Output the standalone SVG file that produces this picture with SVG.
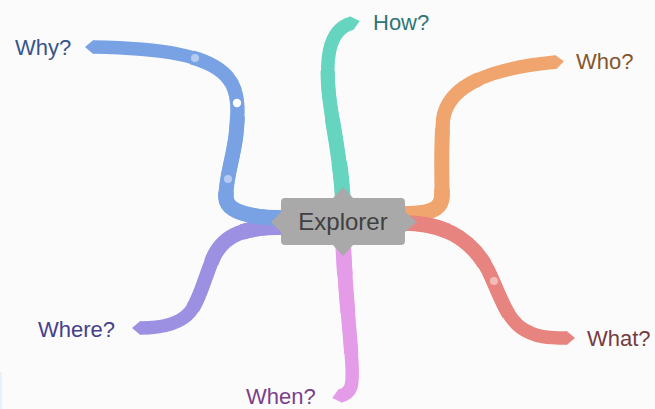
<svg xmlns="http://www.w3.org/2000/svg" width="655" height="409" viewBox="0 0 655 409">
  <style>
    .branch { fill: none; stroke-width: 13.5; stroke-linecap: butt; stroke-linejoin: round; }
    /* slightly wider sections near the root give the ribbons a gentle taper */
    .w1 { stroke-width: 14.2; stroke-dasharray: 70 200; }
    .w2 { stroke-width: 14.9; stroke-dasharray: 45 200; }
    .w3 { stroke-width: 15.6; stroke-dasharray: 22 200; }
    .label { font-family: "Liberation Sans", Arial, sans-serif; font-size: 22px; }
    .root-label { font-family: "Liberation Sans", Arial, sans-serif; font-size: 24px; fill: #404040; }
    .dot { fill: #ffffff; }
  </style>
  <defs>
    <path id="p-where" pathLength="100" d="M 285,227 C 245,227 225,234 214,256 C 205,276 200,300 190,312 C 180,324 160,328 140,328"/>
    <path id="p-why" pathLength="100" d="M 285,218 C 250,218 227,212 226,198 C 225,180 233,160 236,135 C 238,115 240,92 228,78 C 210,55 160,48 93,47"/>
    <path id="p-how" pathLength="100" d="M 343,205 C 342,165 333,130 329,95 C 326,65 326,30 352,23"/>
    <path id="p-who" pathLength="100" d="M 400,214 C 430,214 442,210 442,195 C 442,170 441,150 443,120 C 446,95 470,70 556,62"/>
    <path id="p-what" pathLength="100" d="M 400,223 C 440,222 470,236 488,270 C 500,295 505,315 520,327 C 535,338 550,338 567,338"/>
    <path id="p-when" pathLength="100" d="M 343,240 C 345,290 350,330 352,365 C 353,385 352,393 340,396"/>
    <!-- pointed end cap for each branch colour -->
    <marker id="tip-blue" markerUnits="userSpaceOnUse" markerWidth="10" markerHeight="16" refX="0" refY="8" orient="auto" style="overflow:visible">
      <path d="M-1,1.2 L0,1.2 L8,8 L0,14.8 L-1,14.8 Z" fill="#79a2e4"/>
    </marker>
    <marker id="tip-teal" markerUnits="userSpaceOnUse" markerWidth="10" markerHeight="16" refX="0" refY="8" orient="auto" style="overflow:visible">
      <path d="M-1,1.2 L0,1.2 L8,8 L0,14.8 L-1,14.8 Z" fill="#65d5bf"/>
    </marker>
    <marker id="tip-orange" markerUnits="userSpaceOnUse" markerWidth="10" markerHeight="16" refX="0" refY="8" orient="auto" style="overflow:visible">
      <path d="M-1,1.2 L0,1.2 L8,8 L0,14.8 L-1,14.8 Z" fill="#f0a56f"/>
    </marker>
    <marker id="tip-red" markerUnits="userSpaceOnUse" markerWidth="10" markerHeight="16" refX="0" refY="8" orient="auto" style="overflow:visible">
      <path d="M-1,1.2 L0,1.2 L8,8 L0,14.8 L-1,14.8 Z" fill="#e8847f"/>
    </marker>
    <marker id="tip-purple" markerUnits="userSpaceOnUse" markerWidth="10" markerHeight="16" refX="0" refY="8" orient="auto" style="overflow:visible">
      <path d="M-1,1.2 L0,1.2 L8,8 L0,14.8 L-1,14.8 Z" fill="#9c90e2"/>
    </marker>
    <marker id="tip-pink" markerUnits="userSpaceOnUse" markerWidth="10" markerHeight="16" refX="0" refY="8" orient="auto" style="overflow:visible">
      <path d="M-1,1.2 L0,1.2 L8,8 L0,14.8 L-1,14.8 Z" fill="#e49ce9"/>
    </marker>
  </defs>

  <rect width="655" height="409" fill="#fbfbfb"/>
  <rect x="0" y="372" width="2" height="37" fill="#e9f1fb"/>

  <g id="connectors">
    <g id="to-where" stroke="#9c90e2">
      <use href="#p-where" class="branch" marker-end="url(#tip-purple)"/>
      <use href="#p-where" class="branch w1"/>
      <use href="#p-where" class="branch w2"/>
      <use href="#p-where" class="branch w3"/>
    </g>
    <g id="to-why" stroke="#79a2e4">
      <use href="#p-why" class="branch" marker-end="url(#tip-blue)"/>
      <use href="#p-why" class="branch w1"/>
      <use href="#p-why" class="branch w2"/>
      <use href="#p-why" class="branch w3"/>
    </g>
    <g id="to-how" stroke="#65d5bf">
      <use href="#p-how" class="branch" marker-end="url(#tip-teal)"/>
      <use href="#p-how" class="branch w1"/>
      <use href="#p-how" class="branch w2"/>
      <use href="#p-how" class="branch w3"/>
    </g>
    <g id="to-who" stroke="#f0a56f">
      <use href="#p-who" class="branch" marker-end="url(#tip-orange)"/>
      <use href="#p-who" class="branch w1"/>
      <use href="#p-who" class="branch w2"/>
      <use href="#p-who" class="branch w3"/>
    </g>
    <g id="to-what" stroke="#e8847f">
      <use href="#p-what" class="branch" marker-end="url(#tip-red)"/>
      <use href="#p-what" class="branch w1"/>
      <use href="#p-what" class="branch w2"/>
      <use href="#p-what" class="branch w3"/>
    </g>
    <g id="to-when" stroke="#e49ce9">
      <use href="#p-when" class="branch" marker-end="url(#tip-pink)"/>
      <use href="#p-when" class="branch w1"/>
      <use href="#p-when" class="branch w2"/>
      <use href="#p-when" class="branch w3"/>
    </g>
    <!-- small highlights along the branches -->
    <circle class="dot" cx="195" cy="58" r="4" opacity="0.45"/>
    <circle class="dot" cx="237" cy="103" r="4.2"/>
    <circle class="dot" cx="228" cy="179" r="4" opacity="0.45"/>
    <circle class="dot" cx="494" cy="281" r="4" opacity="0.45"/>
  </g>

  <g id="root">
    <path fill="#a9a9a9" d="M 285,198 L 333,198 L 343,187 L 353,198 L 401,198 Q 405,198 405,202 L 405,212 L 417,222 L 405,232 L 405,241 Q 405,245 401,245 L 353,245 L 343,256 L 333,245 L 285,245 Q 281,245 281,241 L 281,232 L 271,222 L 281,212 L 281,202 Q 281,198 285,198 Z"/>
    <text class="root-label" x="343" y="230" text-anchor="middle">Explorer</text>
  </g>

  <g id="why"><text class="label" x="15" y="55" fill="#38548c">Why?</text></g>
  <g id="how"><text class="label" x="373" y="30" fill="#2f7677">How?</text></g>
  <g id="who"><text class="label" x="576" y="69" fill="#85562c">Who?</text></g>
  <g id="what"><text class="label" x="587" y="346" fill="#763b3f">What?</text></g>
  <g id="where"><text class="label" x="38" y="337" fill="#45408a">Where?</text></g>
  <g id="when"><text class="label" x="246" y="404" fill="#7a3f8c">When?</text></g>
</svg>
